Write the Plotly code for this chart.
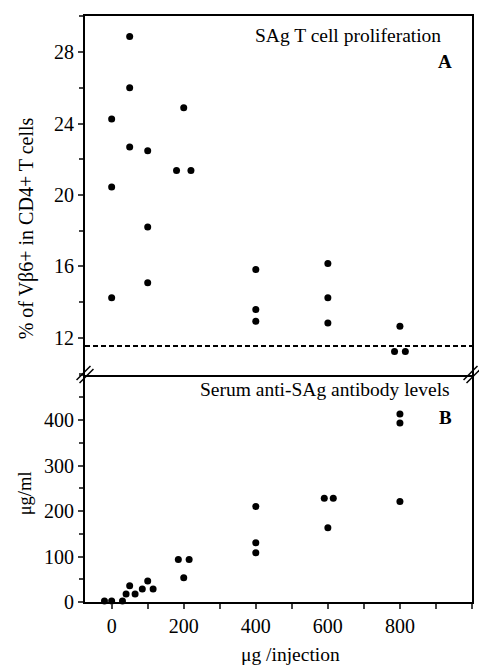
import plotly.graph_objects as go

# Panel A: SAg T cell proliferation
a_dose = [0, 0, 0, 50, 50, 50, 100, 100, 100, 180, 200, 220, 400, 400, 400, 600, 600, 600, 800, 785, 815]
a_pct = [24.25, 20.45, 14.24, 28.87, 26.0, 22.68, 22.47, 18.21, 15.08, 21.37, 24.88, 21.37,
         15.83, 13.59, 12.93, 16.16, 14.24, 12.84, 12.65, 11.24, 11.24]
a_baseline = 11.55

# Panel B: serum anti-SAg antibody levels
b_dose = [-20, 0, 30, 40, 50, 65, 85, 100, 115, 185, 200, 215, 400, 400, 400, 590, 615, 600, 800, 800, 800]
b_ug = [2, 2, 2, 17.5, 35.8, 17.5, 28.5, 46, 28.5, 93.5, 53.3, 93.5, 209.7, 130, 108,
        228, 228, 163, 413, 393.4, 220.7]

x_tickvals = [0, 200, 400, 600, 800]
a_tickvals = [12, 16, 20, 24, 28]
b_tickvals = [0, 100, 200, 300, 400]

FONT = "Liberation Serif"
W, H = 479, 666
L, R, T, B = 85, 5, 16, 64
split_px = 374.5
plot_h = H - T - B
b_top = (H - B - split_px) / plot_h

fig = go.Figure()
fig.add_trace(go.Scatter(x=a_dose, y=a_pct, mode="markers", xaxis="x", yaxis="y",
                         marker=dict(color="black", size=7), cliponaxis=False, showlegend=False))
fig.add_trace(go.Scatter(x=b_dose, y=b_ug, mode="markers", xaxis="x2", yaxis="y2",
                         marker=dict(color="black", size=7), cliponaxis=False, showlegend=False))

xr = [-74, 1000]
line_kw = dict(showline=True, linecolor="black", linewidth=2, showgrid=False, zeroline=False)

fig.update_layout(
    width=W, height=H,
    margin=dict(l=L, r=R, t=T, b=B),
    paper_bgcolor="white", plot_bgcolor="white",
    font=dict(family=FONT, size=20, color="black"),
    xaxis=dict(domain=[0, 1], range=xr, anchor="y", showticklabels=False, ticks="",
               mirror=True, **line_kw),
    yaxis=dict(domain=[b_top, 1], range=[9.95, 30.02], anchor="x",
               tickvals=a_tickvals, ticks="outside", ticklen=5, tickwidth=1.5,
               minor=dict(dtick=2, ticks="outside", ticklen=4, tickwidth=1.5, tick0=0),
               mirror=True, **line_kw),
    xaxis2=dict(domain=[0, 1], range=xr, anchor="y2",
                tickvals=x_tickvals, ticks="outside", ticklen=5, tickwidth=1.5,
                minor=dict(dtick=100, tick0=0, ticks="outside", ticklen=5, tickwidth=1.5),
                mirror=False, **line_kw),
    yaxis2=dict(domain=[0, b_top], range=[0, 500], anchor="x2",
                tickvals=b_tickvals, ticks="outside", ticklen=5, tickwidth=1.5,
                minor=dict(dtick=50, tick0=0, ticks="outside", ticklen=4, tickwidth=1.5),
                mirror=True, **line_kw),
)

# Baseline dashed line in panel A
fig.add_shape(type="line", xref="x domain", yref="y", x0=0, x1=1, y0=a_baseline, y1=a_baseline,
              line=dict(color="black", width=2, dash="5px,3px"))

# Axis break marks
def px_x(p):
    return (p - L) / (W - L - R)

def px_y(p):
    return (H - B - p) / plot_h

for xc in (L, W - R):
    for off in (-1.5, 1.5):
        fig.add_shape(type="line", xref="paper", yref="paper",
                      x0=px_x(xc - 7 + off), y0=px_y(split_px + 7 + off),
                      x1=px_x(xc + 7 + off), y1=px_y(split_px - 7 + off),
                      line=dict(color="black", width=1.5))

annots = [
    ("SAg T cell proliferation", 445, 35, False, 19.5, "right", 0),
    ("<b>A</b>", 456, 62, True, 19, "right", 0),
    ("Serum anti-SAg antibody levels", 454, 389, False, 19.5, "right", 0),
    ("<b>B</b>", 456, 417, True, 19, "right", 0),
    ("% of Vβ6+ in CD4+ T cells", 26, 228, False, 20, "center", -90),
    ("μg/ml", 25, 493, False, 18.5, "center", -90),
    ("μg /injection", 292, 654, False, 19.5, "center", 0),
]
for txt, xp, yp, bold, fs, xa, ang in annots:
    fig.add_annotation(text=txt, xref="paper", yref="paper",
                       x=px_x(xp), y=px_y(yp), xanchor=xa, yanchor="middle",
                       textangle=ang, showarrow=False, font=dict(family=FONT, size=fs))

fig.write_html("out.html")
